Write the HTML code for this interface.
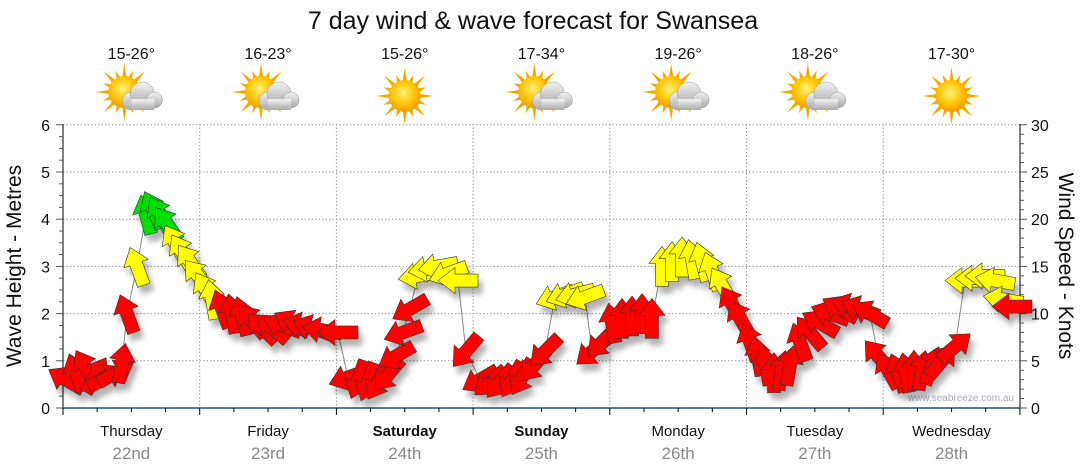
<!DOCTYPE html>
<html><head><meta charset="utf-8"><style>
html,body{margin:0;padding:0;background:#fff;}
svg{display:block;font-family:"Liberation Sans","DejaVu Sans",sans-serif;}
</style></head><body>
<svg id="s" width="1080" height="475" viewBox="0 0 1080 475" xmlns="http://www.w3.org/2000/svg">
<defs>
<filter id="sh" x="-50%" y="-50%" width="200%" height="200%"><feGaussianBlur in="SourceAlpha" stdDeviation="3"/><feOffset dx="4" dy="7"/><feComponentTransfer><feFuncA type="linear" slope="0.3"/></feComponentTransfer><feMerge><feMergeNode/><feMergeNode in="SourceGraphic"/></feMerge></filter>
<radialGradient id="sun" cx="45%" cy="40%" r="60%"><stop offset="0" stop-color="#fff27a"/><stop offset="0.6" stop-color="#ffc400"/><stop offset="1" stop-color="#f19a00"/></radialGradient>
<linearGradient id="cl" x1="0" y1="0" x2="0" y2="1"><stop offset="0" stop-color="#f2f2f2"/><stop offset="1" stop-color="#a9a9a9"/></linearGradient>
</defs>
<text x="533" y="29" font-size="25" text-anchor="middle" fill="#111">7 day wind &amp; wave forecast for Swansea</text>
<g id="g"></g>
</svg>
<script>
var s=document.getElementById('g'),h='';
function Y(v){return 408-v*47.2;}
var L=63,R=1020,dw=136.7;
for(var i=1;i<=6;i++)h+='<line x1="'+L+'" x2="'+R+'" y1="'+Y(i)+'" y2="'+Y(i)+'" stroke="#999" stroke-dasharray="1.5,2" stroke-width="1"/>';
for(var d=1;d<7;d++){var x=L+d*dw;h+='<line x1="'+x+'" x2="'+x+'" y1="124" y2="408" stroke="#999" stroke-dasharray="1.5,2"/>';}
h+='<line x1="'+L+'" x2="'+L+'" y1="124" y2="408" stroke="#000"/>';
h+='<line x1="'+R+'" x2="'+R+'" y1="124" y2="408" stroke="#000"/>';
h+='<line x1="'+L+'" x2="'+R+'" y1="408" y2="408" stroke="#1f4e79" stroke-width="1.5"/>';
for(var i=0;i<=24;i++){var y=Y(i/4);h+='<line x1="'+(L-(i%4?4:7))+'" x2="'+L+'" y1="'+y+'" y2="'+y+'" stroke="#555"/>';}
for(var i=0;i<=6;i++)h+='<text x="50" y="'+(Y(i)+6)+'" font-size="16" text-anchor="end" fill="#111">'+i+'</text>';
for(var i=0;i<=30;i++){var y=408-i*283.2/30;h+='<line x1="'+R+'" x2="'+(R+(i%5?4:7))+'" y1="'+y+'" y2="'+y+'" stroke="#555"/>';if(i%5==0)h+='<text x="1031" y="'+(y+6)+'" font-size="16" fill="#111">'+i+'</text>';}
for(var i=0;i<=28;i++){var x=L+i*dw/4;h+='<line x1="'+x+'" x2="'+x+'" y1="408" y2="'+(408+(i%4?4:7))+'" stroke="#000"/>';}
h+='<text transform="translate(21,266) rotate(-90)" font-size="21" text-anchor="middle" fill="#111">Wave Height - Metres</text>';
h+='<text transform="translate(1059,266) rotate(90)" font-size="21" text-anchor="middle" fill="#111">Wind Speed - Knots</text>';
var days=[['Thursday','22nd',0,'15-26°',1],['Friday','23rd',0,'16-23°',1],['Saturday','24th',1,'15-26°',0],['Sunday','25th',1,'17-34°',1],['Monday','26th',0,'19-26°',1],['Tuesday','27th',0,'18-26°',1],['Wednesday','28th',0,'17-30°',0]];
days.forEach(function(a,i){var c=L+dw*(i+0.5);
h+='<text x="'+c+'" y="436" font-size="15" text-anchor="middle" fill="#111"'+(a[2]?' font-weight="bold"':'')+'>'+a[0]+'</text>';
h+='<text x="'+c+'" y="459" font-size="17" text-anchor="middle" fill="#888">'+a[1]+'</text>';
h+='<text x="'+c+'" y="59" font-size="16" text-anchor="middle" fill="#111">'+a[3]+'</text>';
var sx=a[4]?c-7:c,sy=a[4]?92:96;
h+='<g>';for(var k=0;k<16;k++){var an=k*Math.PI/8,r1=15,r2=k%2?23:29;h+='<polygon points="'+(sx+Math.cos(an-0.14)*r1)+','+(sy+Math.sin(an-0.14)*r1)+' '+(sx+Math.cos(an)*r2)+','+(sy+Math.sin(an)*r2)+' '+(sx+Math.cos(an+0.14)*r1)+','+(sy+Math.sin(an+0.14)*r1)+'" fill="#f5a800"/>';}
h+='<circle cx="'+sx+'" cy="'+sy+'" r="16" fill="url(#sun)"/></g>';
if(a[4]){h+='<g fill="url(#cl)" stroke="#999" stroke-width="0.5"><circle cx="'+(c)+'" cy="'+101+'" r="9"/><circle cx="'+(c+11)+'" cy="'+94+'" r="12"/><circle cx="'+(c+23)+'" cy="'+100+'" r="8"/><rect x="'+(c)+'" y="99" width="23" height="11" stroke="none"/></g>';}
});
h+='<text x="1014" y="401" font-size="10" text-anchor="end" fill="#aab">www.seabreeze.com.au</text>';
var Rc='#ff0000',Yc='#ffff00',Gc='#00e000';
var D=[[66,0.6,-60,Rc],[76,0.75,-20,Rc],[86,0.85,-30,Rc],[96,0.7,30,Rc],[106,0.65,60,Rc],[116,0.75,60,Rc],[122,0.95,10,Rc],[127,2.0,-20,Rc],[137,3.0,-20,Yc],[146,4.1,-15,Gc],[153,4.2,-25,Gc],[160,4.1,-30,Gc],[167,3.9,-35,Gc],[175,3.5,-30,Yc],[182,3.3,-30,Yc],[190,3.1,-35,Yc],[198,2.8,-40,Yc],[206,2.5,-30,Yc],[212,2.3,-10,Yc],
[222,2.1,-20,Rc],[232,2.0,-10,Rc],[242,1.95,-15,Rc],[252,1.85,-40,Rc],[262,1.7,-45,Rc],[272,1.7,-50,Rc],[282,1.75,-70,Rc],[292,1.8,-60,Rc],[302,1.75,-75,Rc],[312,1.7,-70,Rc],[322,1.65,-80,Rc],[338,1.6,-90,Rc],
[348,0.65,-110,Rc],[358,0.6,200,Rc],[368,0.55,200,Rc],[378,0.55,210,Rc],[388,0.7,220,Rc],[396,1.1,-120,Rc],[403,1.6,-110,Rc],[410,2.1,-120,Rc],[418,2.8,-100,Yc],[428,2.95,-100,Yc],[438,3.0,-100,Yc],[448,2.85,-110,Yc],[458,2.7,-90,Yc],[466,1.2,-140,Rc],
[480,0.6,-120,Rc],[490,0.55,-130,Rc],[500,0.55,-140,Rc],[512,0.6,-150,Rc],[522,0.65,210,Rc],[534,0.9,220,Rc],[545,1.2,225,Rc],[555,2.35,-110,Yc],[565,2.4,-110,Yc],[575,2.4,-105,Yc],[585,2.35,-110,Yc],[592,1.2,-130,Rc],[602,1.4,-135,Rc],
[612,1.8,-10,Rc],[622,1.9,0,Rc],[632,1.95,0,Rc],[642,2.0,0,Rc],[652,1.9,0,Rc],[662,3.0,0,Yc],[672,3.1,0,Yc],[682,3.2,0,Yc],[692,3.15,-10,Yc],[702,3.1,-15,Yc],[712,2.9,-20,Yc],[722,2.6,-30,Yc],[732,2.2,-30,Rc],[740,1.9,-30,Rc],
[750,1.4,-20,Rc],[758,1.1,-10,Rc],[766,0.9,-10,Rc],[774,0.75,0,Rc],[782,0.8,10,Rc],[790,0.9,10,Rc],[800,1.4,-20,Rc],[810,1.6,-40,Rc],[820,1.8,-60,Rc],[830,2.0,-70,Rc],[840,2.1,-60,Rc],[850,2.15,-70,Rc],[860,2.1,-70,Rc],[870,2.0,-60,Rc],[878,1.1,-40,Rc],
[888,0.8,-30,Rc],[898,0.75,-20,Rc],[906,0.75,-10,Rc],[914,0.8,0,Rc],[922,0.8,10,Rc],[932,0.9,20,Rc],[942,1.0,40,Rc],[955,1.3,50,Rc],[965,2.7,-90,Yc],[975,2.75,-90,Yc],[985,2.8,-90,Yc],[995,2.7,-80,Yc],[1003,2.3,-80,Yc],[1012,2.15,-90,Rc]];
h+='<polyline fill="none" stroke="#888" stroke-width="1" points="'+D.map(function(p){return p[0]+','+Y(p[1])}).join(' ')+'"/>';
h+='<g filter="url(#sh)">';
D.forEach(function(p){h+='<path transform="translate('+p[0]+','+Y(p[1])+') rotate('+p[2]+')" d="M0,-20 L13,-3 L6.5,-3 L6.5,20 L-6.5,20 L-6.5,-3 L-13,-3 Z" fill="'+p[3]+'" stroke="#333" stroke-width="0.6"/>';});
h+='</g>';
s.innerHTML=h;
</script>
</body></html>
